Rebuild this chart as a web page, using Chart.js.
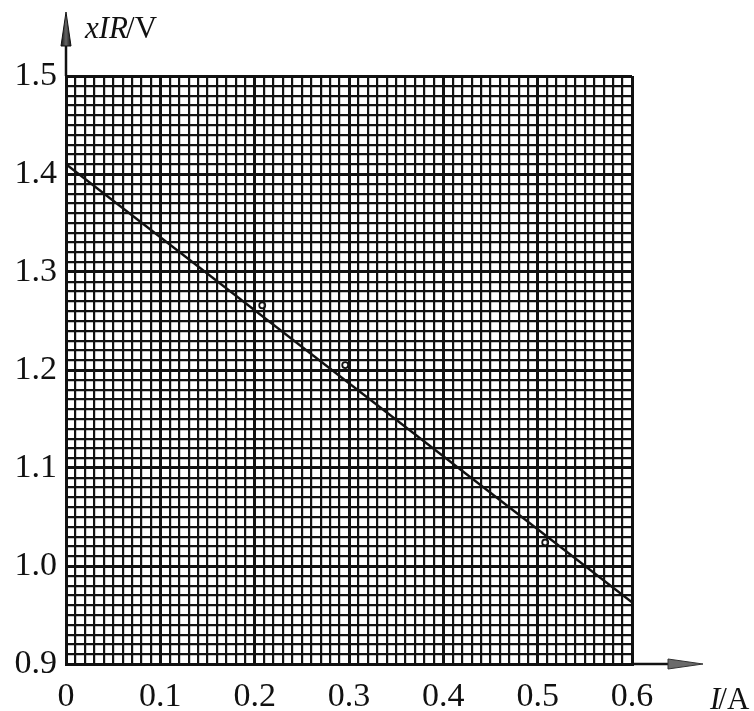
<!DOCTYPE html>
<html>
<head>
<meta charset="utf-8">
<script src="https://cdn.jsdelivr.net/npm/chart.js@4.4.1/dist/chart.umd.min.js"></script>
<style>
  body { margin: 0; background: #fff; }
  #wrap { width: 754px; height: 711px; }
</style>
</head>
<body>
<div id="wrap"><canvas id="graph" width="754" height="711"></canvas></div>
<script>
// tick labels
const xTickLabels = ['0', '0.1', '0.2', '0.3', '0.4', '0.5', '0.6'];
const yTickLabels = ['0.9', '1.0', '1.1', '1.2', '1.3', '1.4', '1.5'];

// fitted line (I in A, xIR in V)
const lineI = [0, 0.6];
const lineU = [1.41, 0.963];

// small marks on the line
const markI = [0.208, 0.296, 0.508];
const markU = [1.266, 1.205, 1.024];

function isMajor(v) {
  return Math.round(v * 100) % 10 === 0;
}

const serif = "'Liberation Serif', 'Times New Roman', serif";

// axis arrows and axis names
const axisExtras = {
  id: 'axisExtras',
  afterDraw(chart) {
    const c = chart.ctx;
    const a = chart.chartArea;
    c.save();
    c.strokeStyle = '#111';
    c.lineWidth = 2.5;
    // y axis going up
    c.beginPath();
    c.moveTo(a.left, a.top);
    c.lineTo(a.left, 40);
    c.stroke();
    const g = c.createLinearGradient(a.left - 5, 0, a.left + 5, 0);
    g.addColorStop(0, '#111');
    g.addColorStop(0.5, '#666');
    g.addColorStop(1, '#111');
    c.fillStyle = g;
    c.beginPath();
    c.moveTo(a.left, 12);
    c.lineTo(a.left - 5, 46);
    c.lineTo(a.left + 5, 46);
    c.closePath();
    c.fill();
    c.lineWidth = 1;
    c.stroke();
    // x axis going right
    c.lineWidth = 2.5;
    c.beginPath();
    c.moveTo(a.right, a.bottom);
    c.lineTo(672, a.bottom);
    c.stroke();
    c.fillStyle = '#6a6a6a';
    c.beginPath();
    c.moveTo(703, a.bottom);
    c.lineTo(668, a.bottom - 5);
    c.lineTo(668, a.bottom + 5);
    c.closePath();
    c.fill();
    c.lineWidth = 1;
    c.strokeStyle = '#333';
    c.stroke();

    // axis names
    c.fillStyle = '#111';
    c.textBaseline = 'alphabetic';
    let x = 85;
    c.font = 'italic 31px ' + serif;
    c.fillText('xIR', x, 38);
    x += c.measureText('xIR').width;
    c.font = '31px ' + serif;
    c.fillText('/V', x - 2, 38);

    x = 710;
    c.font = 'italic 31px ' + serif;
    c.fillText('I', x, 709);
    x += c.measureText('I').width;
    c.font = '31px ' + serif;
    c.fillText('/A', x - 2, 709);
    c.restore();
  }
};

const ctx = document.getElementById('graph').getContext('2d');

const graph = new Chart(ctx, {
  type: 'scatter',
  data: {
    datasets: [{
      label: 'line',
      data: lineI.map((v, i) => ({ x: v, y: lineU[i] })),
      showLine: true,
      borderColor: '#111',
      borderWidth: 2.5,
      pointRadius: 0
    }, {
      label: 'marks',
      data: markI.map((v, i) => ({ x: v, y: markU[i] })),
      showLine: false,
      pointRadius: 3,
      pointBackgroundColor: 'rgba(255,255,255,0.6)',
      pointBorderColor: '#111',
      pointBorderWidth: 1.8
    }]
  },
  options: {
    responsive: false,
    animation: false,
    layout: { padding: { left: 0, top: 76, right: 122, bottom: 0 } },
    plugins: {
      legend: { display: false },
      tooltip: { enabled: false }
    },
    scales: {
      x: {
        type: 'linear',
        min: 0,
        max: 0.6,
        afterFit: s => { s.height = 47; },
        border: { display: true, color: '#111', width: 3 },
        grid: {
          drawTicks: false,
          color: '#111',
          lineWidth: c => isMajor(c.tick.value) ? 3 : 2.2
        },
        ticks: {
          stepSize: 0.01,
          autoSkip: false,
          maxRotation: 0,
          padding: 13,
          color: '#111',
          font: { family: serif, size: 34 },
          callback: v => {
            const k = Math.round(v * 100);
            return k % 10 === 0 ? xTickLabels[k / 10] : '';
          }
        }
      },
      y: {
        type: 'linear',
        min: 0.9,
        max: 1.5,
        afterFit: s => { s.width = 66; },
        border: { display: true, color: '#111', width: 3 },
        grid: {
          drawTicks: false,
          color: '#111',
          lineWidth: c => isMajor(c.tick.value) ? 3 : 2.2
        },
        ticks: {
          stepSize: 0.01,
          autoSkip: false,
          padding: 9,
          color: '#111',
          font: { family: serif, size: 34 },
          callback: v => {
            const k = Math.round(v * 100) - 90;
            return k % 10 === 0 ? yTickLabels[k / 10] : '';
          }
        }
      }
    }
  },
  plugins: [axisExtras]
});
</script>
</body>
</html>
